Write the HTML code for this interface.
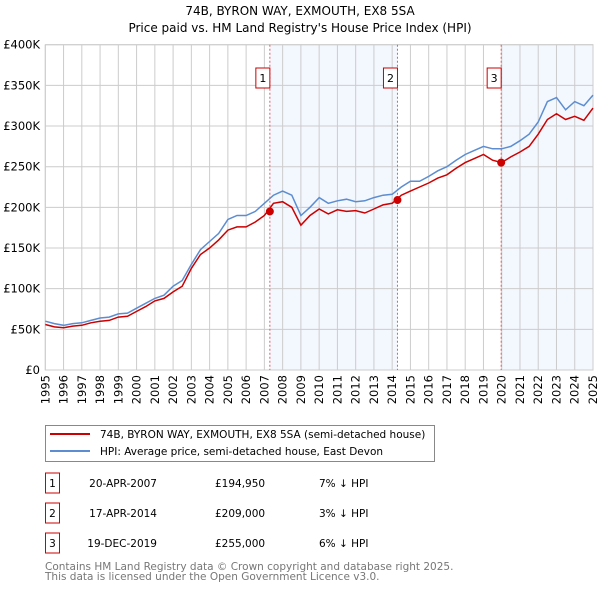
<!DOCTYPE html>
<html><head><meta charset="utf-8"><style>
body{margin:0;background:#fff;font-family:"DejaVu Sans","Liberation Sans",sans-serif;}
svg text{font-family:"DejaVu Sans","Liberation Sans",sans-serif;}
</style></head><body>
<svg id="chart" width="600" height="590" xmlns="http://www.w3.org/2000/svg">
<text x="300" y="15" text-anchor="middle" font-size="12">74B, BYRON WAY, EXMOUTH, EX8 5SA</text>
<text x="300" y="32" text-anchor="middle" font-size="12">Price paid vs. HM Land Registry's House Price Index (HPI)</text>
<g id="plot"></g>
<g>
<rect x="45.5" y="425.5" width="389" height="36" fill="#fff" stroke="#888"/>
<line x1="50" y1="434" x2="90" y2="434" stroke="#cc0000" stroke-width="2"/>
<text x="100" y="438" font-size="10.5">74B, BYRON WAY, EXMOUTH, EX8 5SA (semi-detached house)</text>
<line x1="50" y1="451" x2="90" y2="451" stroke="#5b8dd0" stroke-width="2"/>
<text x="100" y="455" font-size="10.5">HPI: Average price, semi-detached house, East Devon</text>
</g>
<g id="table" font-size="10.5"></g>
<text x="45" y="570" font-size="10.5" fill="#777">Contains HM Land Registry data © Crown copyright and database right 2025.</text>
<text x="45" y="580" font-size="10.5" fill="#777">This data is licensed under the Open Government Licence v3.0.</text>
</svg>
<script>
const hpiYears=[1995,1995.5,1996,1996.5,1997,1997.5,1998,1998.5,1999,1999.5,2000,2000.5,2001,2001.5,2002,2002.5,2003,2003.5,2004,2004.5,2005,2005.5,2006,2006.5,2007,2007.5,2008,2008.5,2009,2009.5,2010,2010.5,2011,2011.5,2012,2012.5,2013,2013.5,2014,2014.5,2015,2015.5,2016,2016.5,2017,2017.5,2018,2018.5,2019,2019.5,2020,2020.5,2021,2021.5,2022,2022.5,2023,2023.5,2024,2024.5,2025];
const hpiValues=[60,57,55,57,58,61,64,65,69,70,76,82,88,92,103,110,130,148,158,168,185,190,190,195,205,215,220,215,190,200,212,205,208,210,207,208,212,215,216,225,232,232,238,245,250,258,265,270,275,272,272,275,282,290,305,330,335,320,330,325,338];
const redValues=[56,53,52,54,55,58,60,61,65,66,72,78,85,88,96,103,125,142,150,160,172,176,176,182,190,205,207,200,178,190,198,192,197,195,196,193,198,203,205,215,220,225,230,236,240,248,255,260,265,258,255,262,268,275,290,308,315,308,312,307,322];
const saleYears=[2007.3,2014.29,2019.97];
const salePrices=[194950,209000,255000];
const saleLabels=["1","2","3"];
const saleDates=["20-APR-2007","17-APR-2014","19-DEC-2019"];
const salePriceText=["£194,950","£209,000","£255,000"];
const salePct=["7% ↓ HPI","3% ↓ HPI","6% ↓ HPI"];
const yTicks=[0,50,100,150,200,250,300,350,400];
const yTickLabels=["£0","£50K","£100K","£150K","£200K","£250K","£300K","£350K","£400K"];
const xTicks=[1995,1996,1997,1998,1999,2000,2001,2002,2003,2004,2005,2006,2007,2008,2009,2010,2011,2012,2013,2014,2015,2016,2017,2018,2019,2020,2021,2022,2023,2024,2025];

const NS="http://www.w3.org/2000/svg";
const X0=45.3,X1=593,Y0=370,Y1=44.7;
const xs=y=>X0+(y-1995)/30*(X1-X0);
const ys=v=>Y0-v/400*(Y0-Y1);
const plot=document.getElementById('plot');
function mk(tag,attrs,parent){const e=document.createElementNS(NS,tag);for(const k in attrs)e.setAttribute(k,attrs[k]);(parent||plot).appendChild(e);return e;}
const shadeStarts=[saleYears[0],saleYears[2]], shadeEnds=[saleYears[1],2025];
for(let i=0;i<shadeStarts.length;i++){
 const r=mk('rect',{x:xs(shadeStarts[i]),y:Y1,width:xs(shadeEnds[i])-xs(shadeStarts[i]),height:Y0-Y1,fill:'#eef3fd',opacity:0.7});
 
 
}
yTicks.forEach((t,i)=>{
 const l=mk('line',{x1:X0,x2:X1,y1:ys(t),y2:ys(t),stroke:'#cccccc'});
 
 
 const tx=mk('text',{x:40,y:ys(t)+4,'text-anchor':'end','font-size':11.5});
 tx.textContent=yTickLabels[i];
 
 
});
xTicks.forEach(t=>{
 const l=mk('line',{x1:xs(t),x2:xs(t),y1:Y1,y2:Y0,stroke:'#cccccc'});
 
 
 const tx=mk('text',{x:0,y:0,'font-size':11.5,'text-anchor':'end',transform:`translate(${xs(t)+4},${Y0+5}) rotate(-90)`});
 tx.textContent=t;
 
 
});
mk('rect',{x:X0,y:Y1,width:X1-X0,height:Y0-Y1,fill:'none',stroke:'#cccccc'});
function path(vals,color,name){
 const d=vals.map((v,i)=>(i?'L':'M')+xs(hpiYears[i]).toFixed(1)+','+ys(v).toFixed(1)).join('');
 const p=mk('path',{d:d,fill:'none',stroke:color,'stroke-width':1.5});
 
 
}
path(hpiValues,'#5b8dd0','hpi-line');
path(redValues,'#cc0000','property-price-line');
const tbl=document.getElementById('table');
saleYears.forEach((y,i)=>{
 const l=mk('line',{x1:xs(y),x2:xs(y),y1:Y1,y2:Y0,stroke:'#e06060','stroke-dasharray':'2,2'});
 
 
 const b=mk('rect',{x:xs(y)-14,y:68,width:14,height:20,fill:'#fff',stroke:'#cc0000'});
 
 
 const t=mk('text',{x:xs(y)-7,y:82,'text-anchor':'middle','font-size':11});
 t.textContent=saleLabels[i];
 
 
 const c=mk('circle',{cx:xs(y),cy:ys(salePrices[i]/1000),r:4,fill:'#cc0000'});
 
 
 const ry=483+i*30;
 const rb=mk('rect',{x:45.5,y:ry-10,width:14,height:20,fill:'#fff',stroke:'#cc0000'},tbl);
 
 
 const cols=[[52.5,'middle',saleLabels[i],'table-index'],[157,'end',saleDates[i],'table-date'],[215,'start',salePriceText[i],'table-price'],[319,'start',salePct[i],'table-hpi-diff']];
 cols.forEach(cc=>{
  const tt=mk('text',{x:cc[0],y:ry+4,'text-anchor':cc[1]},tbl);
  tt.textContent=cc[2];
  
  
 });
});
</script>
</body></html>
